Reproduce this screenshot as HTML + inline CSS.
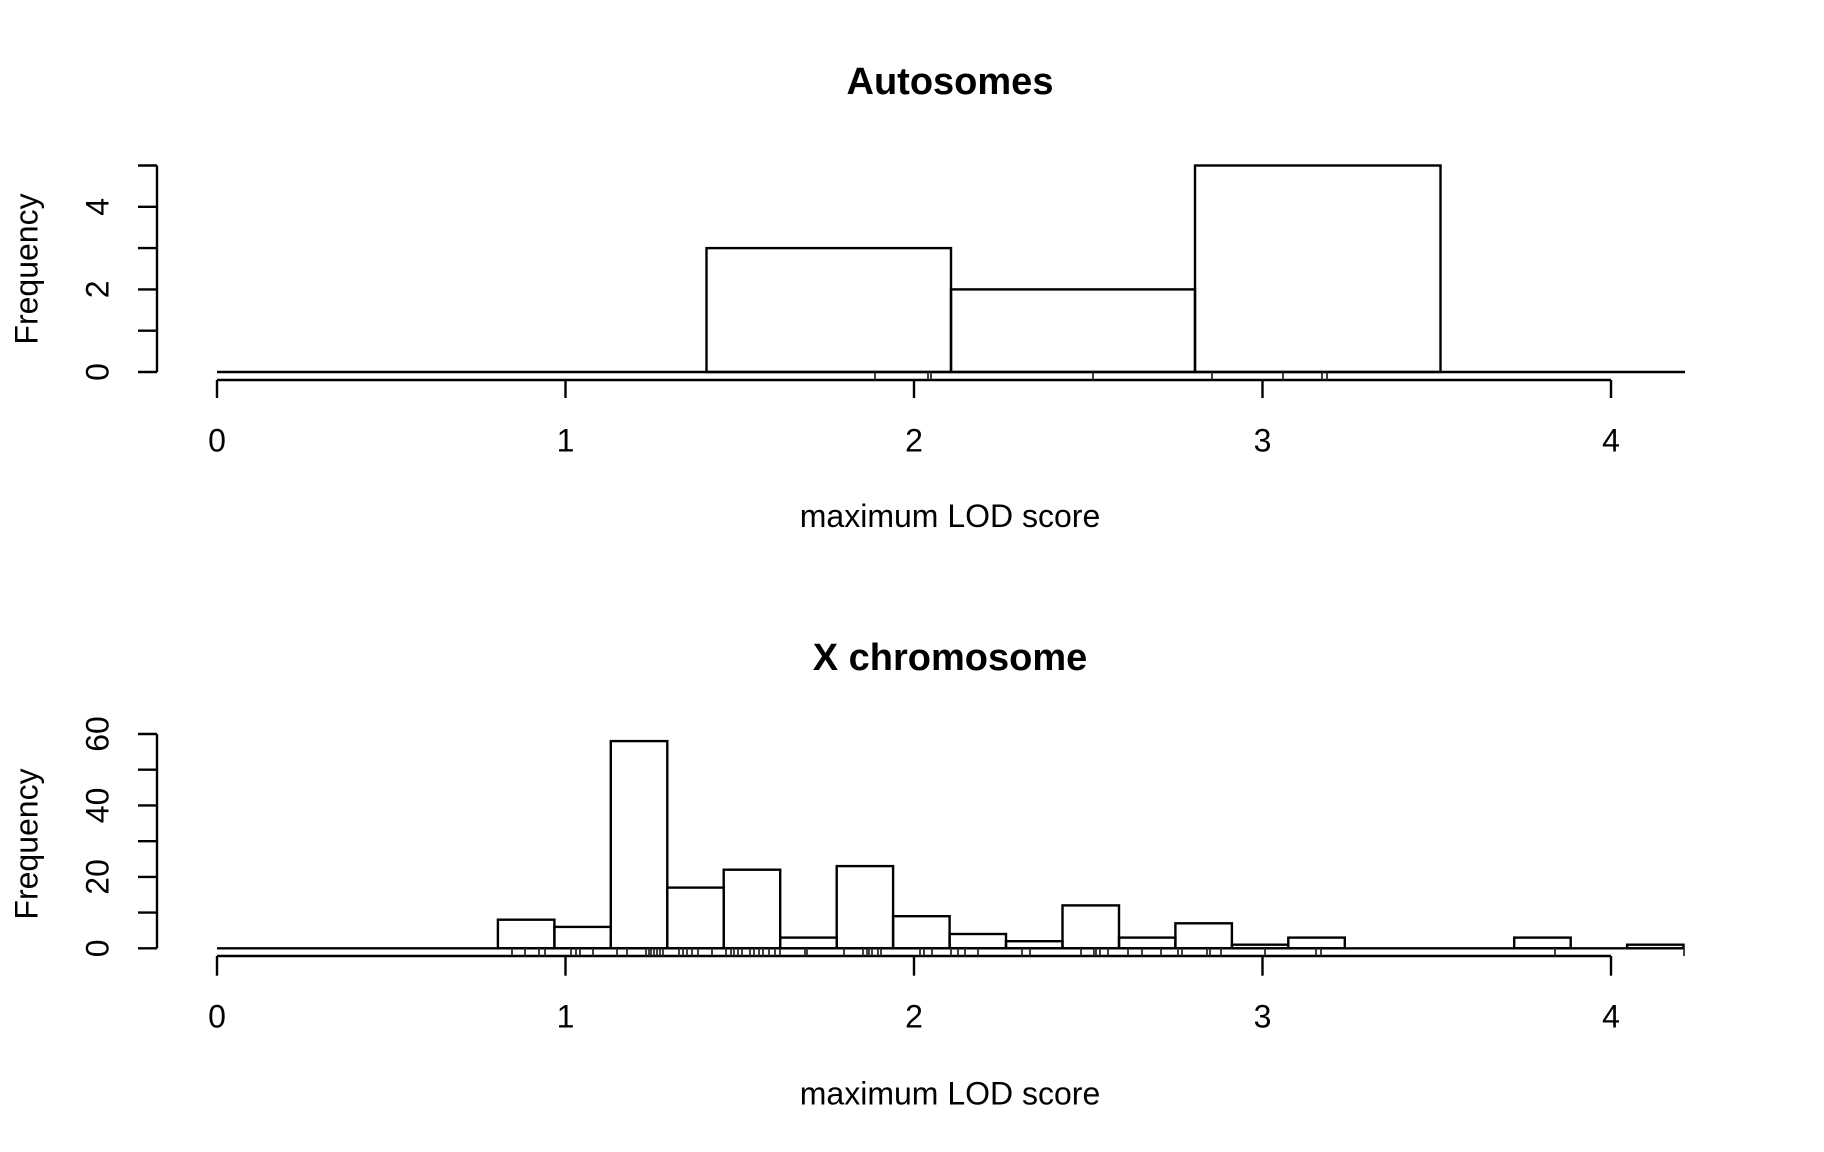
<!DOCTYPE html>
<html><head><meta charset="utf-8"><style>
html,body{margin:0;padding:0;background:#fff}
svg{display:block}
text{font-family:"Liberation Sans",Arial,sans-serif;fill:#000}
</style></head><body>
<svg width="1824" height="1152" viewBox="0 0 1824 1152" xmlns="http://www.w3.org/2000/svg">
<g stroke="#000" stroke-width="2.4" fill="none">
<line x1="217" y1="372" x2="1685" y2="372"/>
<rect x="706.5" y="248.1" width="244.5" height="123.9"/>
<rect x="951" y="289.4" width="244" height="82.6"/>
<rect x="1195" y="165.5" width="245.5" height="206.5"/>
<line x1="157" y1="372" x2="157" y2="165.5"/>
<line x1="138" y1="372" x2="157" y2="372"/>
<line x1="138" y1="330.7" x2="157" y2="330.7"/>
<line x1="138" y1="289.4" x2="157" y2="289.4"/>
<line x1="138" y1="248.1" x2="157" y2="248.1"/>
<line x1="138" y1="206.8" x2="157" y2="206.8"/>
<line x1="138" y1="165.5" x2="157" y2="165.5"/>
<line x1="217" y1="380" x2="1611" y2="380"/>
<line x1="217" y1="380" x2="217" y2="398"/>
<line x1="565.5" y1="380" x2="565.5" y2="398"/>
<line x1="914" y1="380" x2="914" y2="398"/>
<line x1="1262.5" y1="380" x2="1262.5" y2="398"/>
<line x1="1611" y1="380" x2="1611" y2="398"/>
<line x1="217" y1="948.3" x2="1684" y2="948.3"/>
<rect x="497.9" y="919.7" width="56.5" height="28.6"/>
<rect x="554.4" y="926.9" width="56.4" height="21.4"/>
<rect x="610.8" y="741.1" width="56.5" height="207.2"/>
<rect x="667.3" y="887.6" width="56.4" height="60.7"/>
<rect x="723.7" y="869.7" width="56.5" height="78.6"/>
<rect x="780.2" y="937.6" width="56.5" height="10.7"/>
<rect x="836.7" y="866.1" width="56.4" height="82.2"/>
<rect x="893.1" y="916.2" width="56.5" height="32.1"/>
<rect x="949.6" y="934.0" width="56.4" height="14.3"/>
<rect x="1006.0" y="941.2" width="56.5" height="7.1"/>
<rect x="1062.5" y="905.4" width="56.5" height="42.9"/>
<rect x="1119.0" y="937.6" width="56.4" height="10.7"/>
<rect x="1175.4" y="923.3" width="56.5" height="25"/>
<rect x="1231.9" y="944.7" width="56.4" height="3.6"/>
<rect x="1288.3" y="937.6" width="56.5" height="10.7"/>
<rect x="1514.2" y="937.6" width="56.5" height="10.7"/>
<rect x="1627.1" y="944.7" width="56.4" height="3.6"/>
<line x1="157" y1="948.3" x2="157" y2="734"/>
<line x1="138" y1="948.3" x2="157" y2="948.3"/>
<line x1="138" y1="912.6" x2="157" y2="912.6"/>
<line x1="138" y1="876.9" x2="157" y2="876.9"/>
<line x1="138" y1="841.2" x2="157" y2="841.2"/>
<line x1="138" y1="805.4" x2="157" y2="805.4"/>
<line x1="138" y1="769.7" x2="157" y2="769.7"/>
<line x1="138" y1="734" x2="157" y2="734"/>
<line x1="217" y1="956" x2="1611" y2="956"/>
<line x1="217" y1="956" x2="217" y2="975.7"/>
<line x1="565.5" y1="956" x2="565.5" y2="975.7"/>
<line x1="914" y1="956" x2="914" y2="975.7"/>
<line x1="1262.5" y1="956" x2="1262.5" y2="975.7"/>
<line x1="1611" y1="956" x2="1611" y2="975.7"/>
</g>
<g stroke="#222" stroke-width="1.7">
<path d="M875 372V380M928 372V380M931 372V380M1093 372V380M1212 372V380M1283 372V380M1322 372V380M1327 372V380"/>
<path d="M512 948V956M525 948V956M539 948V956M545 948V956M571 948V956M576 948V956M580 948V956M593 948V956M617 948V956M627 948V956M646 948V956M649 948V956M651 948V956M654 948V956M657 948V956M660 948V956M663 948V956M679 948V956M683 948V956M687 948V956M692 948V956M698 948V956M712 948V956M726 948V956M731 948V956M734 948V956M738 948V956M742 948V956M750 948V956M754 948V956M759 948V956M763 948V956M769 948V956M775 948V956M780 948V956M805 948V956M807 948V956M844 948V956M863 948V956M867 948V956M869 948V956M872 948V956M878 948V956M881 948V956M920 948V956M924 948V956M932 948V956M951 948V956M958 948V956M965 948V956M978 948V956M1022 948V956M1030 948V956M1081 948V956M1094 948V956M1096 948V956M1100 948V956M1108 948V956M1128 948V956M1142 948V956M1161 948V956M1178 948V956M1182 948V956M1207 948V956M1210 948V956M1221 948V956M1265 948V956M1316 948V956M1321 948V956M1555 948V956M1684 948V956"/>
</g>
<text x="950" y="94" font-size="38" font-weight="bold" text-anchor="middle">Autosomes</text>
<text x="950" y="670" font-size="38" font-weight="bold" text-anchor="middle">X chromosome</text>
<g font-size="32" text-anchor="middle">
<text x="217" y="451.5">0</text><text x="565.5" y="451.5">1</text><text x="914" y="451.5">2</text><text x="1262.5" y="451.5">3</text><text x="1611" y="451.5">4</text>
<text x="950" y="527">maximum LOD score</text>
<text x="217" y="1027.5">0</text><text x="565.5" y="1027.5">1</text><text x="914" y="1027.5">2</text><text x="1262.5" y="1027.5">3</text><text x="1611" y="1027.5">4</text>
<text x="950" y="1104.5">maximum LOD score</text>
<text transform="translate(37.5,269) rotate(-90)">Frequency</text>
<text transform="translate(37.5,844) rotate(-90)">Frequency</text>
<text transform="translate(108.5,372) rotate(-90)">0</text>
<text transform="translate(108.5,289.4) rotate(-90)">2</text>
<text transform="translate(108.5,206.8) rotate(-90)">4</text>
<text transform="translate(108.5,948.3) rotate(-90)">0</text>
<text transform="translate(108.5,876.9) rotate(-90)">20</text>
<text transform="translate(108.5,805.4) rotate(-90)">40</text>
<text transform="translate(108.5,734) rotate(-90)">60</text>
</g>
</svg>
</body></html>
